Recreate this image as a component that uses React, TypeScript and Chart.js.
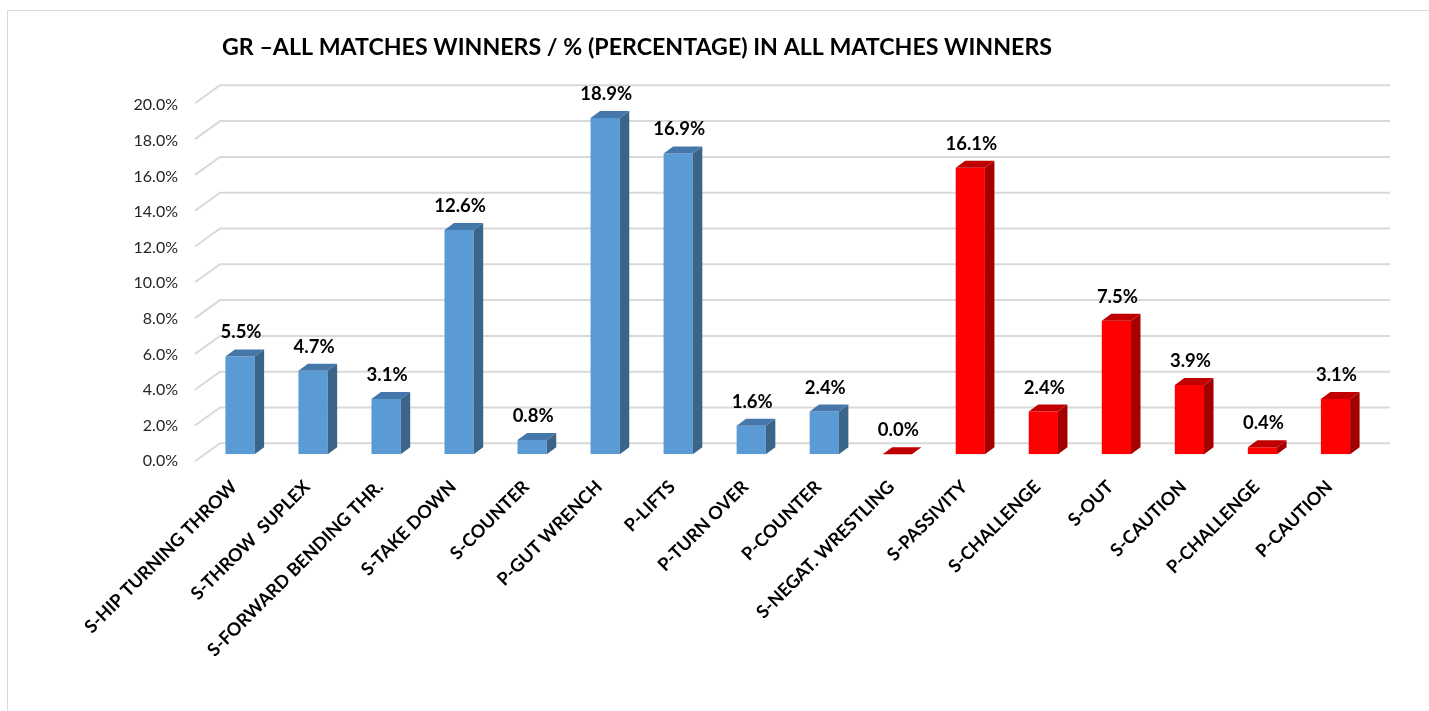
import React, { useEffect, useRef } from 'react';
import { Chart, registerables } from 'chart.js';

Chart.register(...registerables);

const TITLE = 'GR –ALL MATCHES WINNERS / % (PERCENTAGE) IN ALL MATCHES WINNERS';

const categories = [
  'S-HIP TURNING THROW',
  'S-THROW  SUPLEX',
  'S-FORWARD BENDING THR.',
  'S-TAKE DOWN',
  'S-COUNTER',
  'P-GUT WRENCH',
  'P-LIFTS',
  'P-TURN OVER',
  'P-COUNTER',
  'S-NEGAT. WRESTLING',
  'S-PASSIVITY',
  'S-CHALLENGE',
  'S-OUT',
  'S-CAUTION',
  'P-CHALLENGE',
  'P-CAUTION',
];

const percentages = [5.5, 4.7, 3.1, 12.6, 0.8, 18.9, 16.9, 1.6, 2.4, 0.0, 16.1, 2.4, 7.5, 3.9, 0.4, 3.1];

// group of each category: 'blue' = technical points, 'red' = passivity / cautions
const groups = ['blue', 'blue', 'blue', 'blue', 'blue', 'blue', 'blue', 'blue', 'blue',
  'red', 'red', 'red', 'red', 'red', 'red', 'red'];

const yTicks = [0, 2, 4, 6, 8, 10, 12, 14, 16, 18, 20];

const PALETTE: Record<string, { front: string; side: string; top: string }> = {
  blue: { front: '#5B9BD5', side: '#3A6488', top: '#4677AA' },
  red: { front: '#FF0000', side: '#A50000', top: '#C00000' },
};

const DEPTH_X = 9.5;
const DEPTH_Y = -7;

const framePlugin = {
  id: 'frame',
  beforeDraw(chart: any) {
    const { ctx, width, height } = chart;
    ctx.save();
    ctx.fillStyle = '#FFFFFF';
    ctx.fillRect(0, 0, width, height);
    ctx.strokeStyle = '#D9D9D9';
    ctx.lineWidth = 1;
    ctx.beginPath();
    ctx.moveTo(7.5, height);
    ctx.lineTo(7.5, 10.5);
    ctx.lineTo(width, 10.5);
    ctx.stroke();
    ctx.restore();
  },
};

const gridPlugin = {
  id: 'grid3d',
  beforeDatasetsDraw(chart: any) {
    const { ctx, chartArea: ca, scales } = chart;
    const y = scales.y;
    ctx.save();
    ctx.strokeStyle = '#D9D9D9';
    ctx.lineWidth = 2;
    y.ticks.forEach((t: any) => {
      const yf = y.getPixelForValue(t.value);
      const yb = yf - 11 - (t.value / 20) * 2;
      ctx.beginPath();
      ctx.moveTo(ca.left - 8.5, yb + 18);
      ctx.lineTo(ca.left + 16.5, yb);
      ctx.lineTo(ca.right + 18, yb);
      ctx.stroke();
    });
    ctx.restore();
  },
};

const bar3dPlugin = {
  id: 'bar3d',
  afterDatasetsDraw(chart: any) {
    const { ctx } = chart;
    const meta = chart.getDatasetMeta(0);
    ctx.save();
    meta.data.forEach((el: any, i: number) => {
      const pal = PALETTE[groups[i]];
      const half = el.width / 2;
      const l = el.x - half;
      const r = el.x + half;
      const top = el.y;
      const base = el.base;
      // side face
      if (base - top > 0.5) {
        ctx.fillStyle = pal.side;
        ctx.beginPath();
        ctx.moveTo(r, base);
        ctx.lineTo(r, top);
        ctx.lineTo(r + DEPTH_X, top + DEPTH_Y);
        ctx.lineTo(r + DEPTH_X, base + DEPTH_Y);
        ctx.closePath();
        ctx.fill();
      }
      // top face
      ctx.fillStyle = pal.top;
      ctx.beginPath();
      ctx.moveTo(l, top);
      ctx.lineTo(r, top);
      ctx.lineTo(r + DEPTH_X, top + DEPTH_Y);
      ctx.lineTo(l + DEPTH_X, top + DEPTH_Y);
      ctx.closePath();
      ctx.fill();
    });
    // value labels
    ctx.fillStyle = '#000000';
    ctx.font = 'bold 18.5px Lato';
    ctx.textAlign = 'center';
    ctx.textBaseline = 'alphabetic';
    meta.data.forEach((el: any, i: number) => {
      ctx.fillText(percentages[i].toFixed(1) + '%', el.x + 1, el.y - 18);
    });
    ctx.restore();
  },
};

const titlePlugin = {
  id: 'title3d',
  afterDraw(chart: any) {
    const { ctx, chartArea } = chart;
    ctx.save();
    ctx.fillStyle = '#000000';
    ctx.font = 'bold 23.2px Lato';
    ctx.textAlign = 'left';
    ctx.textBaseline = 'alphabetic';
    ctx.fillText(TITLE, chartArea.left + 18.5, 55);
    ctx.restore();
  },
};

export default function App() {
  const canvasRef = useRef<HTMLCanvasElement | null>(null);

  useEffect(() => {
    const canvas = canvasRef.current;
    if (!canvas) return;
    const chart = new Chart(canvas, {
      type: 'bar',
      data: {
        labels: categories,
        datasets: [
          {
            data: percentages,
            backgroundColor: groups.map((g) => PALETTE[g].front),
            borderWidth: 0,
            barPercentage: 0.4,
            categoryPercentage: 1,
          },
        ],
      },
      options: {
        responsive: false,
        maintainAspectRatio: false,
        animation: false,
        events: [],
        layout: { padding: { top: 98.3, right: 57, left: 0, bottom: 0 } },
        plugins: {
          legend: { display: false },
          title: { display: false },
          tooltip: { enabled: false },
        },
        scales: {
          x: {
            grid: { display: false, drawTicks: false },
            border: { display: false },
            ticks: {
              autoSkip: false,
              minRotation: 45,
              maxRotation: 45,
              padding: 22,
              labelOffset: -6,
              color: '#000000',
              font: { family: 'Lato', size: 18, weight: 'bold' },
            },
            afterFit(scale: any) {
              scale.height = 711 - 454.3;
            },
          },
          y: {
            min: 0,
            max: 20,
            afterBuildTicks(scale: any) {
              scale.ticks = yTicks.map((v) => ({ value: v }));
            },
            grid: { display: false, drawTicks: false },
            border: { display: false },
            ticks: {
              padding: 25.5,
              labelOffset: 7,
              color: '#262626',
              font: { family: 'Lato', size: 16 },
              callback: (v: any) => Number(v).toFixed(1) + '%',
            },
            afterFit(scale: any) {
              scale.width = 203.5;
            },
          },
        },
      },
      plugins: [framePlugin, gridPlugin, bar3dPlugin, titlePlugin],
    });
    return () => chart.destroy();
  }, []);

  return (
    <div style={{ position: 'absolute', left: 0, top: 0, width: 1429, height: 711, background: '#fff' }}>
      <canvas ref={canvasRef} width={1429} height={711} />
    </div>
  );
}
